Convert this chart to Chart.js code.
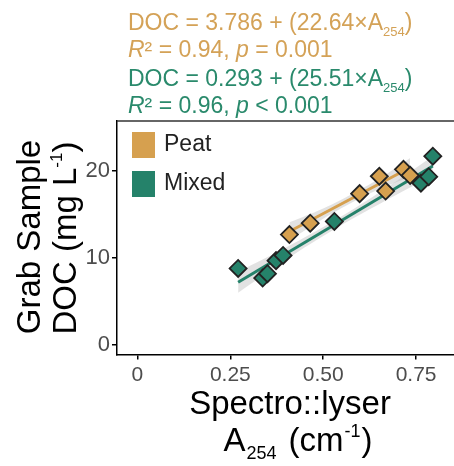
<!DOCTYPE html>
<html><head><meta charset="utf-8">
<script src="https://cdn.jsdelivr.net/npm/chart.js@4.4.0/dist/chart.umd.min.js"></script>
<style>html,body{margin:0;padding:0;background:#fff}#wrap{width:454px;height:466px}</style>
</head><body><div id="wrap"><canvas id="c" width="454" height="466"></canvas></div>
<script>
// ---- data ----
const peatX = [0.409, 0.465, 0.598, 0.651, 0.668, 0.716, 0.734];
const peatY = [12.7, 14.0, 17.4, 19.4, 17.7, 20.2, 19.5];
const mixedX = [0.271, 0.337, 0.350, 0.373, 0.392, 0.530, 0.763, 0.784, 0.795];
const mixedY = [8.8, 7.7, 8.2, 9.7, 10.3, 14.2, 18.6, 19.35, 21.7];
const peatFitX = [0.409, 0.734];
const peatFitY = [13.05, 20.4];
const mixedFitX = [0.271, 0.795];
const mixedFitY = [7.21, 20.57];
const peatBandX = [0.409, 0.5, 0.57, 0.65, 0.734];
const peatBandUpper = [14.1, 15.7, 17.2, 19.1, 21.5];
const peatBandLower = [12.0, 14.5, 16.2, 17.9, 19.3];
const mixedBandX = [0.271, 0.4, 0.53, 0.66, 0.795];
const mixedBandUpper = [8.4, 11.2, 14.3, 17.8, 21.7];
const mixedBandLower = [6.0, 9.8, 13.3, 16.4, 19.5];
const xTickValues = [0, 0.25, 0.5, 0.75];
const xTickLabels = ['0', '0.25', '0.50', '0.75'];
const yTickValues = [0, 10, 20];
const yTickLabels = ['0', '10', '20'];
const seriesNames = ['Peat', 'Mixed'];

const ORANGE = '#D6A04F', GREEN = '#25826A';
const TXT_OR = '#D4A257', TXT_GR = '#2A8A6C';
const FONT = "'Liberation Sans', Arial, sans-serif";
const pts = (xs, ys) => xs.map((x, i) => ({x, y: ys[i]}));

function rich(ctx, segs, x, y, align) {
  let w = 0;
  segs.forEach(s => { ctx.font = (s.italic ? 'italic ' : '') + s.size + 'px ' + FONT; w += ctx.measureText(s.t).width + (s.gap || 0); });
  let cx = align === 'center' ? x - w / 2 : x;
  segs.forEach(s => {
    ctx.font = (s.italic ? 'italic ' : '') + s.size + 'px ' + FONT;
    ctx.fillStyle = s.color || '#000';
    ctx.fillText(s.t, cx, y + (s.dy || 0));
    cx += ctx.measureText(s.t).width + (s.gap || 0);
  });
}

const deco = {
  id: 'deco',
  afterDraw(chart) {
    const ctx = chart.ctx, a = chart.chartArea;
    ctx.save();
    // top border
    ctx.strokeStyle = '#333'; ctx.lineWidth = 1.5;
    ctx.beginPath(); ctx.moveTo(a.left, a.top); ctx.lineTo(a.right, a.top); ctx.stroke();
    ctx.textBaseline = 'alphabetic';
    // annotations
    rich(ctx, [{t: 'DOC = 3.786 + (22.64×A', size: 23, color: TXT_OR}, {t: '254', size: 13, dy: 6, color: TXT_OR}, {t: ')', size: 23, color: TXT_OR}], 128, 30, 'left');
    rich(ctx, [{t: 'R', size: 23, italic: true, color: TXT_OR}, {t: '² = 0.94, ', size: 23, color: TXT_OR}, {t: 'p', size: 23, italic: true, color: TXT_OR}, {t: ' = 0.001', size: 23, color: TXT_OR}], 128, 57, 'left');
    rich(ctx, [{t: 'DOC = 0.293 + (25.51×A', size: 23, color: TXT_GR}, {t: '254', size: 13, dy: 6, color: TXT_GR}, {t: ')', size: 23, color: TXT_GR}], 128, 86, 'left');
    rich(ctx, [{t: 'R', size: 23, italic: true, color: TXT_GR}, {t: '² = 0.96, ', size: 23, color: TXT_GR}, {t: 'p', size: 23, italic: true, color: TXT_GR}, {t: ' < 0.001', size: 23, color: TXT_GR}], 128, 113, 'left');
    // legend
    const cols = [ORANGE, GREEN];
    const ly = [132, 171];
    seriesNames.forEach((n, i) => {
      ctx.fillStyle = cols[i];
      ctx.fillRect(132, ly[i], 23, 26);
      ctx.fillStyle = '#222';
      ctx.font = '23px ' + FONT;
      ctx.textBaseline = 'middle';
      ctx.fillText(n, 164, ly[i] + 12.5);
    });
    ctx.textBaseline = 'alphabetic';
    // x title
    rich(ctx, [{t: 'Spectro::lyser', size: 33}], 290, 414, 'center');
    rich(ctx, [{t: 'A', size: 33, gap: 1}, {t: '254', size: 18, dy: 8, gap: 3}, {t: ' (cm', size: 33, gap: 1}, {t: '-1', size: 18, dy: -14, gap: 1}, {t: ')', size: 33}], 298, 451, 'center');
    // y title
    ctx.save(); ctx.translate(40, 237); ctx.rotate(-Math.PI / 2);
    rich(ctx, [{t: 'Grab Sample', size: 33}], 0, 0, 'center');
    ctx.restore();
    ctx.save(); ctx.translate(76, 238); ctx.rotate(-Math.PI / 2);
    rich(ctx, [{t: 'DOC (mg L', size: 33}, {t: '-1', size: 17, dy: -14}, {t: ')', size: 33}], 0, 0, 'center');
    ctx.restore();
    ctx.restore();
  }
};

new Chart(document.getElementById('c'), {
  type: 'scatter',
  data: {
    datasets: [
      {label: 'MixedPts', data: pts(mixedX, mixedY), pointStyle: 'rectRot', pointRadius: 8.5, pointHoverRadius: 8.5, backgroundColor: GREEN, borderColor: '#222', borderWidth: 1.8, order: 0},
      {label: 'PeatPts', data: pts(peatX, peatY), pointStyle: 'rectRot', pointRadius: 8.5, pointHoverRadius: 8.5, backgroundColor: ORANGE, borderColor: '#222', borderWidth: 1.8, order: 1},
      {label: 'MixedFit', data: pts(mixedFitX, mixedFitY), showLine: true, pointRadius: 0, borderColor: GREEN, borderWidth: 3, order: 2},
      {label: 'PeatFit', data: pts(peatFitX, peatFitY), showLine: true, pointRadius: 0, borderColor: ORANGE, borderWidth: 3, order: 3},
      {label: 'MixedUp', data: pts(mixedBandX, mixedBandUpper), showLine: true, pointRadius: 0, borderWidth: 0, borderColor: 'rgba(0,0,0,0)', backgroundColor: 'rgba(185,185,185,0.42)', fill: '+1', tension: 0.4, order: 4},
      {label: 'MixedLo', data: pts(mixedBandX, mixedBandLower), showLine: true, pointRadius: 0, borderWidth: 0, borderColor: 'rgba(0,0,0,0)', fill: false, tension: 0.4, order: 5},
      {label: 'PeatUp', data: pts(peatBandX, peatBandUpper), showLine: true, pointRadius: 0, borderWidth: 0, borderColor: 'rgba(0,0,0,0)', backgroundColor: 'rgba(185,185,185,0.42)', fill: '+1', tension: 0.4, order: 6},
      {label: 'PeatLo', data: pts(peatBandX, peatBandLower), showLine: true, pointRadius: 0, borderWidth: 0, borderColor: 'rgba(0,0,0,0)', fill: false, tension: 0.4, order: 7}
    ]
  },
  options: {
    responsive: false, animation: false, events: [],
    layout: {autoPadding: false, padding: {top: 121, right: 0, left: 0, bottom: 0}},
    plugins: {legend: {display: false}, tooltip: {enabled: false}},
    scales: {
      x: {
        type: 'linear', min: -0.055, max: 0.852,
        afterBuildTicks: s => { s.ticks = xTickValues.map(v => ({value: v})); },
        afterFit: s => { s.height = 111.5; s.paddingRight = 0; s.paddingLeft = 0; },
        grid: {drawOnChartArea: false, tickLength: 5, color: '#000', lineWidth: 1.5},
        border: {color: '#000', width: 1.5},
        ticks: {callback: (v, i) => xTickLabels[i], color: '#4D4D4D', font: {size: 21, family: FONT}, padding: 3, maxRotation: 0}
      },
      y: {
        type: 'linear', min: -1.09, max: 25.75,
        afterBuildTicks: s => { s.ticks = yTickValues.map(v => ({value: v})); },
        afterFit: s => { s.width = 117; s.paddingTop = 0; s.paddingBottom = 0; },
        grid: {drawOnChartArea: false, tickLength: 5, color: '#000', lineWidth: 1.5},
        border: {color: '#000', width: 1.5},
        ticks: {callback: (v, i) => yTickLabels[i], color: '#4D4D4D', font: {size: 22, family: FONT}, padding: 2}
      }
    }
  },
  plugins: [deco]
});
</script></body></html>
